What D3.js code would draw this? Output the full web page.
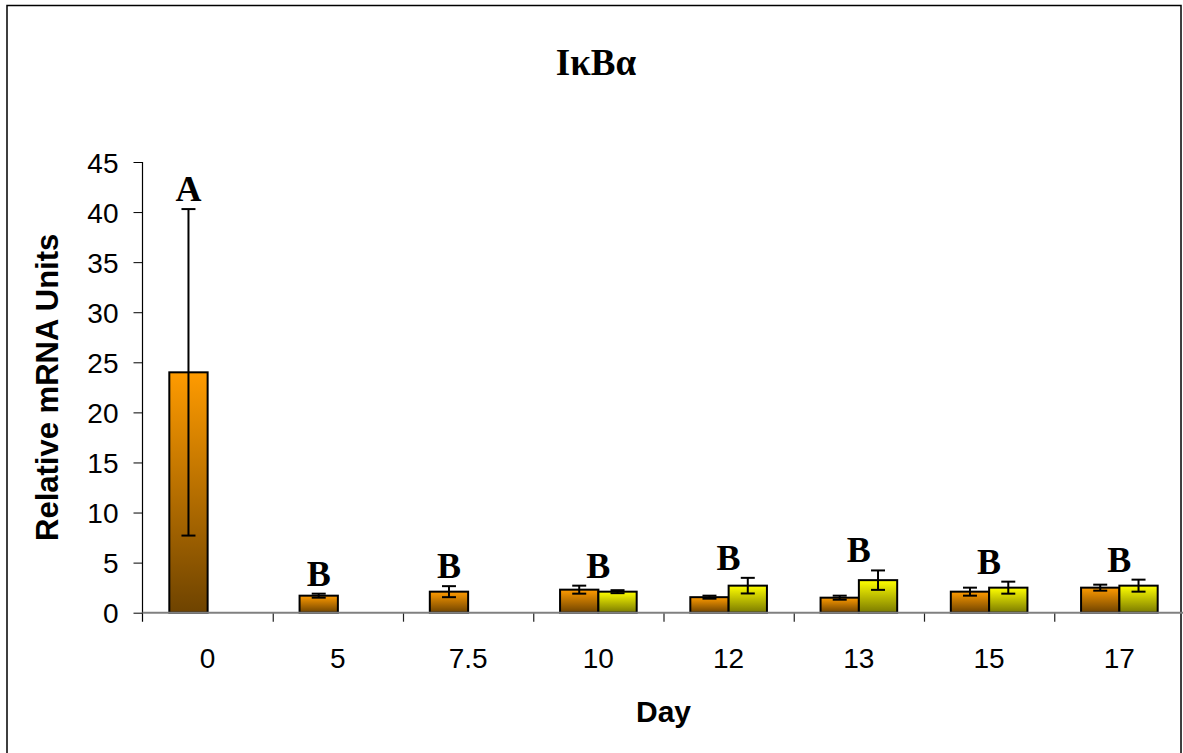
<!DOCTYPE html>
<html>
<head>
<meta charset="utf-8">
<script src="https://cdn.jsdelivr.net/npm/d3@7/dist/d3.min.js"></script>
<style>
  html, body { margin: 0; padding: 0; background: #fff; }
  svg { display: block; }
</style>
</head>
<body>
<svg id="chart" width="1183" height="753"></svg>
<script>
// IκBα relative mRNA by day, two treatment groups
const days = ["0", "5", "7.5", "10", "12", "13", "15", "17"];
const groupA = [24.0, 1.7, 2.1, 2.3, 1.55, 1.5, 2.1, 2.5];
const groupAErr = [16.3, 0.2, 0.55, 0.4, 0.15, 0.2, 0.4, 0.3];
const groupB = [null, null, null, 2.1, 2.7, 3.25, 2.5, 2.7];
const groupBErr = [null, null, null, 0.15, 0.78, 0.97, 0.6, 0.6];
const letters = ["A", "B", "B", "B", "B", "B", "B", "B"];
const yTicks = [0, 5, 10, 15, 20, 25, 30, 35, 40, 45];

const svg = d3.select("#chart");

// outer frame
svg.append("rect")
  .attr("x", 7).attr("y", 5.5)
  .attr("width", 1174).attr("height", 760)
  .attr("fill", "#fff")
  .attr("stroke", "#000").attr("stroke-width", 1.5);

const plot = { left: 142.5, right: 1184.5, top: 162, bottom: 612.7 };

const x = d3.scaleBand().domain(days).range([plot.left, plot.right]).padding(0);
const inner = d3.scaleBand().domain(["a", "b"]).range([0, x.bandwidth()])
  .paddingInner(0).paddingOuter(0.7);
const y = d3.scaleLinear().domain([0, 45]).range([plot.bottom, plot.top]);

// bar gradients
const defs = svg.append("defs");
function grad(id, top, bottom) {
  const g = defs.append("linearGradient").attr("id", id)
    .attr("x1", 0).attr("y1", 0).attr("x2", 0).attr("y2", 1);
  g.append("stop").attr("offset", "0%").attr("stop-color", top);
  g.append("stop").attr("offset", "100%").attr("stop-color", bottom);
}
grad("gA", "#ff9b00", "#6e4300");
grad("gB", "#ffff00", "#7a7a00");

const rows = days.map((d, i) => ({
  day: d, a: groupA[i], ae: groupAErr[i], b: groupB[i], be: groupBErr[i], letter: letters[i]
}));

const sans = "Liberation Sans, Arial, sans-serif";
const serif = "Liberation Serif, Times New Roman, serif";

// y axis
const yAxis = d3.axisLeft(y).tickValues(yTicks).tickSize(9).tickPadding(15);
const gy = svg.append("g").attr("transform", `translate(${plot.left},0)`).call(yAxis);
gy.select(".domain").remove();
gy.selectAll(".tick line").attr("stroke", "#000").attr("stroke-width", 1);
gy.selectAll(".tick text")
  .attr("font-family", sans)
  .attr("font-size", 28).attr("fill", "#000").attr("dy", "0.36em");
svg.append("line")
  .attr("x1", plot.left).attr("x2", plot.left)
  .attr("y1", plot.top).attr("y2", plot.bottom + 9)
  .attr("stroke", "#000").attr("stroke-width", 1.2);

// x axis
const xAxis = d3.axisBottom(x).tickSize(0).tickPadding(0);
const gx = svg.append("g").attr("transform", `translate(0,${plot.bottom})`).call(xAxis);
gx.select(".domain").remove();
gx.selectAll(".tick text")
  .attr("font-family", sans)
  .attr("font-size", 28).attr("fill", "#000").attr("y", 55).attr("dy", 0);
// category separators
svg.append("g").selectAll("line")
  .data(days.slice(1))
  .join("line")
  .attr("x1", d => x(d) + 0.5).attr("x2", d => x(d) + 0.5)
  .attr("y1", plot.bottom).attr("y2", plot.bottom + 9)
  .attr("stroke", "#222").attr("stroke-width", 1.2);

// bars
const bars = svg.append("g");
bars.selectAll("rect.a").data(rows.filter(r => r.a != null)).join("rect")
  .attr("class", "a")
  .attr("x", r => x(r.day) + inner("a"))
  .attr("y", r => y(r.a))
  .attr("width", inner.bandwidth())
  .attr("height", r => y(0) - y(r.a))
  .attr("fill", "url(#gA)")
  .attr("stroke", "#000").attr("stroke-width", 2);
bars.selectAll("rect.b").data(rows.filter(r => r.b != null)).join("rect")
  .attr("class", "b")
  .attr("x", r => x(r.day) + inner("b"))
  .attr("y", r => y(r.b))
  .attr("width", inner.bandwidth())
  .attr("height", r => y(0) - y(r.b))
  .attr("fill", "url(#gB)")
  .attr("stroke", "#000").attr("stroke-width", 2);

// x axis baseline over the bar bottoms
svg.append("line")
  .attr("x1", plot.left).attr("x2", plot.right)
  .attr("y1", plot.bottom).attr("y2", plot.bottom)
  .attr("stroke", "#808080").attr("stroke-width", 2);

// error bars
const capHalf = 7;
function errBars(key, errKey, slot) {
  const data = rows.filter(r => r[key] != null);
  const g = svg.append("g").attr("stroke", "#000").attr("stroke-width", 2);
  data.forEach(r => {
    const cx = x(r.day) + inner(slot) + inner.bandwidth() / 2;
    const hi = y(r[key] + r[errKey]), lo = y(r[key] - r[errKey]);
    g.append("line").attr("x1", cx).attr("x2", cx).attr("y1", hi).attr("y2", lo);
    g.append("line").attr("x1", cx - capHalf).attr("x2", cx + capHalf).attr("y1", hi).attr("y2", hi);
    g.append("line").attr("x1", cx - capHalf).attr("x2", cx + capHalf).attr("y1", lo).attr("y2", lo);
  });
}
errBars("a", "ae", "a");
errBars("b", "be", "b");

// significance letters
svg.append("g").selectAll("text")
  .data(rows).join("text")
  .attr("x", r => r.b != null
    ? x(r.day) + inner("b")
    : x(r.day) + inner("a") + inner.bandwidth() / 2)
  .attr("y", r => {
    const topA = r.a + r.ae;
    const topB = r.b != null ? r.b + r.be : 0;
    return y(Math.max(topA, topB)) - 8;
  })
  .attr("text-anchor", "middle")
  .attr("font-family", serif)
  .attr("font-weight", "bold")
  .attr("font-size", 36)
  .text(r => r.letter);

// titles
svg.append("text")
  .attr("x", 596).attr("y", 75)
  .attr("text-anchor", "middle")
  .attr("font-family", serif)
  .attr("font-weight", "bold").attr("font-size", 37)
  .text("IκBα");

svg.append("text")
  .attr("x", (plot.left + plot.right) / 2).attr("y", 722)
  .attr("text-anchor", "middle")
  .attr("font-family", sans)
  .attr("font-weight", "bold").attr("font-size", 30)
  .text("Day");

svg.append("text")
  .attr("transform", `translate(58,${(plot.top + plot.bottom) / 2}) rotate(-90)`)
  .attr("text-anchor", "middle")
  .attr("font-family", sans)
  .attr("font-weight", "bold").attr("font-size", 31)
  .text("Relative mRNA Units");
</script>
</body>
</html>
